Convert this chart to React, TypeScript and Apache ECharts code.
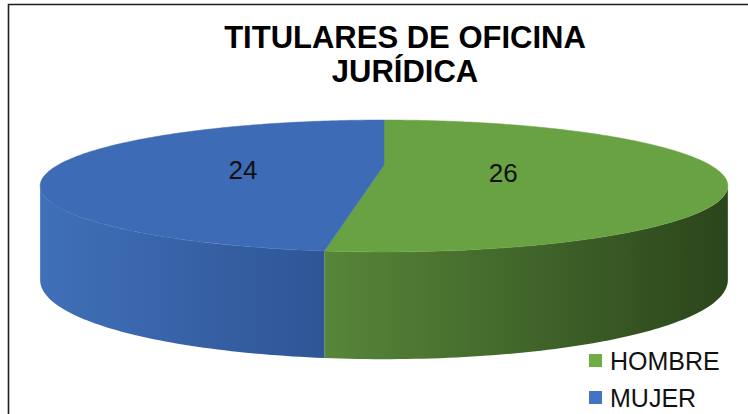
import React, { useEffect, useRef } from "react";
import * as echarts from "echarts";

// ---- data ----
const categories = ["HOMBRE", "MUJER"];
const values = [26, 24];
const titleLines = ["TITULARES DE OFICINA", "JURÍDICA"];

// ---- palette ----
const topColors = ["#69A243", "#3E6BB5"];
const legendColors = ["#6FAC46", "#4472C4"];
const wallColors = [
  ["#578639", "#2B451B"],
  ["#4070B8", "#2F5596"],
];

// ---- pseudo-3D projection ----
const CX = 384;
const CY = 165;
const RX = 326;
const SY = 59.3;
const K = 0.318;
const H0 = 89;
const K2 = 0.17;

function proj(theta: number, r = 1): [number, number] {
  const X = Math.sin(theta) * r;
  const Z = Math.cos(theta) * r;
  const d = 1 + K * Z;
  return [CX + (RX * X) / d, CY - (SY * Z) / d];
}
function depth(theta: number) {
  return H0 / (1 + K2 * Math.cos(theta));
}

const total = values.reduce((a, b) => a + b, 0);
const starts: number[] = [];
{
  let acc = 0;
  values.forEach((v) => {
    starts.push((acc / total) * Math.PI * 2);
    acc += v;
  });
}

function arcPts(a0: number, a1: number, r = 1, down = false) {
  const pts: number[][] = [];
  const n = Math.max(2, Math.ceil(((a1 - a0) * 180) / Math.PI));
  for (let i = 0; i <= n; i++) {
    const t = a0 + ((a1 - a0) * i) / n;
    const p = proj(t, r);
    pts.push([p[0], down ? p[1] + depth(t) : p[1]]);
  }
  return pts;
}

const thetaR = Math.acos(-K);
const thetaL = Math.PI * 2 - thetaR;

function makeRender(idx: number) {
  return function (_params: any, _api: any) {
    const a0 = starts[idx];
    const a1 = a0 + (values[idx] / total) * Math.PI * 2;
    const children: any[] = [];
    const s = Math.max(a0, thetaR);
    const e = Math.min(a1, thetaL);
    if (e > s) {
      const top = arcPts(s, e);
      const bot = arcPts(s, e, 1, true).reverse();
      children.push({
        type: "polygon",
        shape: { points: top.concat(bot) },
        style: {
          fill: new echarts.graphic.LinearGradient(0, 0, 1, 0, [
            { offset: 0, color: wallColors[idx][0] },
            { offset: 1, color: wallColors[idx][1] },
          ]),
        },
      });
    }
    const c = proj(0, 0);
    children.push({
      type: "polygon",
      shape: { points: [c].concat(arcPts(a0, a1)) },
      style: { fill: topColors[idx], stroke: topColors[idx], lineWidth: 0.5 },
    });
    const mid = (a0 + a1) / 2;
    const lp = proj(mid, 0.4);
    children.push({
      type: "text",
      style: {
        text: String(values[idx]),
        x: lp[0] - 12,
        y: lp[1] + 6,
        align: "center",
        verticalAlign: "middle",
        fontSize: 26,
        fontFamily: '"Liberation Sans", Arial, sans-serif',
        fill: "#111",
      },
      z2: 10,
    });
    return { type: "group", children };
  };
}

export default function App() {
  const ref = useRef<HTMLDivElement>(null);
  useEffect(() => {
    document.body.style.margin = "0";
    if (!ref.current) return;
    const chart = echarts.init(ref.current, undefined, { renderer: "svg" });
    chart.setOption({
      animation: false,
      backgroundColor: "#ffffff",
      legend: {
        orient: "vertical",
        left: 589,
        top: 348,
        padding: 0,
        itemWidth: 13,
        itemHeight: 13,
        itemGap: 12,
        icon: "rect",
        data: categories,
        textStyle: {
          fontSize: 25,
          lineHeight: 25,
          fontFamily: '"Liberation Sans", Arial, sans-serif',
          color: "#111",
          padding: [0, 0, 0, 3],
        },
      },
      graphic: [
        {
          type: "rect",
          shape: { x: 8.5, y: 4.5, width: 800, height: 500 },
          style: { fill: "none", stroke: "#1e1e1e", lineWidth: 1.6 },
          silent: true,
        },
        ...titleLines.map((t, i) => ({
          type: "text",
          x: 405,
          y: 37 + i * 34,
          style: {
            text: t,
            align: "center",
            verticalAlign: "middle",
            fontSize: 31,
            fontWeight: "bold",
            fontFamily: '"Liberation Sans", Arial, sans-serif',
            fill: "#000",
          },
        })),
      ],
      series: categories.map((name, i) => ({
        type: "custom",
        name,
        coordinateSystem: "none",
        itemStyle: { color: legendColors[i] },
        data: [values[i]],
        renderItem: makeRender(i),
      })),
    });
    return () => chart.dispose();
  }, []);
  return <div ref={ref} style={{ width: 748, height: 414 }} />;
}
